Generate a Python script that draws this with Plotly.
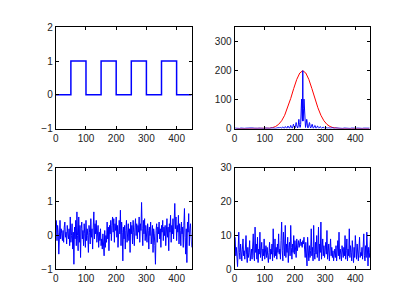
import plotly.graph_objects as go

# ---- data ----
# square wave breakpoints
sq_x = [0, 50, 50, 100, 100, 150, 150, 200, 200, 250, 250, 300, 300, 350, 350, 400, 400, 450]
sq_y = [0, 0, 1, 1, 0, 0, 1, 1, 0, 0, 1, 1, 0, 0, 1, 1, 0, 0]

# spectrum magnitude (blue), low floor on both sides + central part (x=146..306)
spec_floor_left = [1.5, 0.8, 2.0, 1.2, 0.6, 1.8, 1.0, 2.2, 0.9, 1.4, 0.7, 1.6, 2.0, 1.1, 0.8, 1.9, 1.3, 0.6, 2.1,
                   1.0, 1.5, 0.9, 2.4, 1.2, 0.7, 1.8, 1.1, 2.6, 1.4, 0.9, 2.0, 1.3, 3.0, 1.6, 1.0, 2.5, 1.8]
spec_center = [1, 1, 2, 3, 4, 5, 4, 3, 2, 1,
               1, 3, 5, 6, 5, 4, 3, 2, 1, 1,
               3, 6, 7, 6, 5, 3, 2, 1, 2, 4,
               8, 9, 7, 6, 4, 3, 1, 2, 5, 10,
               11, 9, 7, 5, 3, 1, 2, 6, 13, 15,
               11, 8, 6, 4, 2, 3, 8, 18, 21, 14,
               10, 7, 4, 2, 5, 12, 27, 32, 20, 14,
               9, 4, 6, 14, 38, 72, 102, 70, 40, 26,
               200,
               26, 40, 70, 102, 72, 38, 14, 6, 4, 9,
               14, 20, 32, 27, 12, 5, 2, 4, 7, 10,
               14, 21, 18, 8, 3, 2, 4, 6, 8, 11,
               15, 13, 6, 2, 1, 3, 5, 7, 9, 11,
               10, 5, 2, 1, 3, 4, 6, 7, 9, 8,
               4, 2, 1, 2, 3, 5, 6, 7, 6, 3,
               1, 1, 2, 3, 4, 5, 6, 5, 3, 1,
               1, 2, 3, 4, 5, 4, 3, 2, 1, 1]
spec_floor_right = [1.7, 2.4, 1.0, 1.5, 2.8, 1.2, 0.8, 2.0, 1.4, 0.9, 2.2, 1.1, 1.6, 0.7, 1.9, 1.2, 2.3, 0.9,
                    1.4, 0.6, 1.8, 1.1, 2.0, 0.8, 1.3, 1.7, 0.9, 2.1, 1.0, 0.7, 1.5, 1.2, 0.8, 1.9, 1.1, 1.4]

# gaussian window (red), sampled at x = 6, 16, ..., 446
gauss_y = [0, 0, 0, 0, 0, 0, 0, 0, 0.1, 0.2, 0.6, 1.4, 3.4, 7.3, 14.7, 27.1, 46.0, 72.1, 104.1, 138.6, 169.9, 192.0,
           200,
           192.0, 169.9, 138.6, 104.1, 72.1, 46.0, 27.1, 14.7, 7.3, 3.4, 1.4, 0.6, 0.2, 0.1, 0, 0, 0, 0, 0, 0, 0, 0]

# noisy signal (bottom-left), sampled at x = 2, 4, ..., 450
noise_y = [0.45, -0.15, 0.3, 0.1, -0.55, 0.35, 0.45, -0.1, 0.2, 0.05, -0.15, 0.15, -0.2, 0.25, 0.4,
           -0.05, 0.1, -0.25, 0.3, 0.05, -0.1, 0.2, -0.3, 0.55, -0.2, 0.0, 0.35, -0.4, 0.1, -0.85,
           0.25, -0.1, 0.45, -0.3, 0.7, 0.0, -0.45, 0.55, -0.2, 0.3, -0.65, 0.2, 0.4, -0.1, 0.15,
           -0.3, 0.35, 0.05, -0.35, 0.45, -0.15, 0.2, 0.0, -0.5, 0.3, 0.1, -0.25, 0.5, -0.05, 0.2,
           -0.4, 0.25, 0.7, -0.1, 0.35, 0.05, 0.45, -0.2, 0.15, 0.3, -0.35, 0.1, -0.15, 0.2, -0.3,
           -0.1, -0.4, 0.05, -0.25, -0.6, 0.15, -0.35, 0.0, -0.2, 0.4, -0.1, 0.25, -0.45, 0.3, 0.05,
           0.45, -0.15, 0.3, 0.55, 0.1, 0.5, -0.2, 0.35, 0.15, 0.55, -0.05, 0.3, -0.35, 0.2, 0.45,
           0.05, 0.75, -0.3, 0.4, 0.1, -0.75, 0.25, -0.1, 0.3, -0.4, 0.15, 0.45, -0.2, 0.1, 0.35,
           -0.15, 0.2, -0.5, 0.4, 0.05, 0.3, -0.25, 0.45, 0.1, -0.3, 0.25, 0.5, 0.0, 0.35, -0.1,
           0.3, 0.1, 0.55, -0.2, 0.35, 0.15, 0.98, 0.2, -0.3, 0.45, 0.05, 0.5, -0.15, 0.3, 0.1,
           -0.2, 0.35, 0.15, -0.4, 0.25, 0.0, 0.4, -0.25, 0.1, 0.3, -0.5, 0.2, 0.05, -0.3, -0.85,
           0.15, 0.35, -0.2, 0.25, 0.05, 0.4, -0.1, 0.2, -0.35, 0.3, 0.1, 0.45, -0.15, 0.25, 0.0,
           0.3, -0.3, 0.15, 0.5, -0.05, 0.25, -0.45, 0.35, 0.1, 0.6, -0.2, 0.3, 0.05, 0.5, -0.1,
           0.4, 0.95, 0.2, 0.55, -0.15, 0.3, 0.1, 0.6, -0.25, 0.35, 0.15, -0.3, 0.4, 0.05, 0.25,
           -0.35, 0.3, 0.8, -0.05, -0.55, 0.2, -0.8, 0.4, 0.1, 0.65, -0.3, 0.2, 0.35, 0.0, -0.35]

# noise spectrum magnitude (bottom-right), sampled at x = 2, 4, ..., 450
noise_spec_y = [9.5, 4.0, 6.5, 3.5, 0.8, 6.0, 11.0, 5.0, 3.0, 7.5, 4.5, 2.5, 6.0, 9.0, 4.0,
                5.5, 3.0, 7.0, 10.0, 4.5, 2.0, 6.5, 3.5, 5.0, 8.5, 2.5, 4.5, 6.0, 3.0, 5.5,
                10.5, 4.0, 2.5, 12.5, 5.0, 7.5, 3.0, 9.5, 2.0, 6.0, 4.5, 11.0, 3.5, 5.5, 8.0,
                2.5, 6.0, 4.0, 9.0, 3.0, 5.5, 7.0, 3.5, 6.5, 4.0, 2.0, 5.0, 8.0, 3.0, 6.0,
                4.5, 7.5, 2.5, 12.0, 5.0, 3.5, 9.0, 4.0, 6.5, 3.0, 7.5, 5.0, 10.5, 4.5, 6.0,
                3.0, 8.5, 14.0, 5.5, 2.5, 11.0, 6.0, 4.0, 13.0, 3.5, 7.5, 5.0, 9.5, 2.0, 6.5,
                8.0, 4.0, 13.0, 6.5, 3.0, 7.5, 5.0, 10.0, 4.5, 8.5, 6.0, 3.5, 9.0, 5.5, 7.0,
                8.5, 6.5, 7.5, 9.0, 7.0, 8.0, 6.5, 8.5, 7.5, 9.5, 6.0, 3.5, 8.0, 5.0, 1.0,
                9.5, 4.5, 2.5, 7.0, 3.5, 5.5, 12.0, 4.0, 6.5, 2.5, 13.0, 5.0, 3.0, 8.0, 4.5,
                10.0, 3.5, 6.0, 12.5, 2.5, 7.5, 5.0, 14.0, 3.0, 6.5, 9.0, 4.0, 7.0, 3.5, 5.5,
                8.0, 4.5, 11.5, 3.0, 6.0, 7.5, 2.5, 5.0, 9.0, 4.0, 6.5, 3.5, 5.5, 2.5, 4.5,
                6.0, 3.5, 7.0, 2.5, 5.0, 8.5, 4.0, 11.0, 3.0, 6.0, 4.5, 2.5, 7.0, 5.0, 3.5,
                6.5, 4.0, 10.0, 3.0, 5.5, 9.0, 2.5, 6.0, 4.0, 12.0, 3.5, 7.0, 5.0, 2.5, 8.5,
                4.5, 2.0, 6.5, 3.5, 10.0, 5.0, 3.0, 7.5, 4.0, 2.5, 6.0, 9.5, 3.5, 5.0, 4.0,
                6.5, 3.0, 5.5, 10.5, 4.0, 2.5, 7.0, 3.5, 11.0, 5.0, 1.0, 6.5, 3.5, 5.0, 9.5]

# sample positions (indices)
spec_x = (list(range(1, 146, 4))[:len(spec_floor_left)]
          + list(range(146, 146 + len(spec_center)))
          + list(range(307, 451, 4))[:len(spec_floor_right)])
spec_y = spec_floor_left + spec_center + spec_floor_right[:len(range(307, 451, 4))]
gauss_x = list(range(6, 6 + 10 * len(gauss_y), 10))
noise_x = list(range(2, 2 + 2 * len(noise_y), 2))
noise_spec_x = list(range(2, 2 + 2 * len(noise_spec_y), 2))

BLUE = "#0000ff"
RED = "#ff0000"

fig = go.Figure()
fig.add_trace(go.Scatter(x=sq_x, y=sq_y, mode="lines", line=dict(color=BLUE, width=1.5),
                         xaxis="x", yaxis="y", showlegend=False))
fig.add_trace(go.Scatter(x=gauss_x, y=gauss_y, mode="lines", line=dict(color=RED, width=1),
                         xaxis="x2", yaxis="y2", showlegend=False))
fig.add_trace(go.Scatter(x=spec_x, y=spec_y, mode="lines", line=dict(color=BLUE, width=1),
                         xaxis="x2", yaxis="y2", showlegend=False))
fig.add_trace(go.Scatter(x=noise_x, y=noise_y, mode="lines", line=dict(color=BLUE, width=1),
                         xaxis="x3", yaxis="y3", showlegend=False))
fig.add_trace(go.Scatter(x=noise_spec_x, y=noise_spec_y, mode="lines", line=dict(color=BLUE, width=1),
                         xaxis="x4", yaxis="y4", showlegend=False))

W, H = 409, 307
left_dom = [0.13, 0.4648]
right_dom = [0.5703, 0.905]
top_dom = [0.5838, 0.925]
bot_dom = [0.11, 0.4512]

common = dict(showline=True, mirror="ticks", linecolor="black", linewidth=1, ticks="inside",
              ticklen=3, tickcolor="black", showgrid=False, zeroline=False,
              tickfont=dict(family="Liberation Sans, Arial, sans-serif", size=10, color="#222222"))

xt = dict(range=[0, 450], tickvals=[0, 100, 200, 300, 400], **common)

fig.update_layout(
    width=W, height=H, margin=dict(l=0, r=0, t=0, b=0),
    paper_bgcolor="white", plot_bgcolor="white",
    xaxis=dict(domain=left_dom, anchor="y", **xt),
    yaxis=dict(domain=top_dom, anchor="x", range=[-1, 2], tickvals=[-1, 0, 1, 2], **common),
    xaxis2=dict(domain=right_dom, anchor="y2", **xt),
    yaxis2=dict(domain=top_dom, anchor="x2", range=[0, 350], tickvals=[0, 100, 200, 300], **common),
    xaxis3=dict(domain=left_dom, anchor="y3", **xt),
    yaxis3=dict(domain=bot_dom, anchor="x3", range=[-1, 2], tickvals=[-1, 0, 1, 2], **common),
    xaxis4=dict(domain=right_dom, anchor="y4", **xt),
    yaxis4=dict(domain=bot_dom, anchor="x4", range=[0, 30], tickvals=[0, 10, 20, 30], **common),
)

fig.write_html("out.html", config={"displayModeBar": False})

# remove the browser's default page margin so the figure sits at the window origin
with open("out.html", "r", encoding="utf-8") as f:
    html = f.read()
html = html.replace("<head>", "<head><style>html,body{margin:0;padding:0;overflow:hidden;}</style>", 1)
with open("out.html", "w", encoding="utf-8") as f:
    f.write(html)
